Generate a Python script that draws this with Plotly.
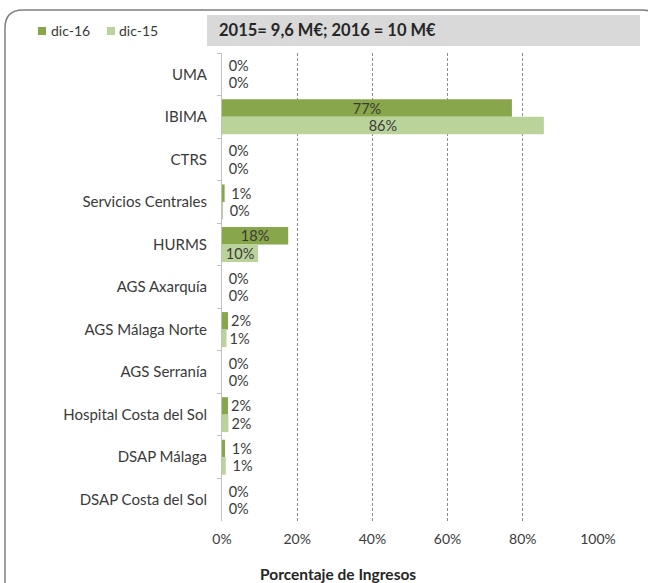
import plotly.graph_objects as go

categories = ["UMA", "IBIMA", "CTRS", "Servicios Centrales", "HURMS", "AGS Axarquía",
              "AGS Málaga Norte", "AGS Serranía", "Hospital Costa del Sol", "DSAP Málaga",
              "DSAP Costa del Sol"]
dic16 = [0, 77.1, 0, 0.7, 17.6, 0, 1.6, 0, 1.6, 0.8, 0]
dic15 = [0, 85.6, 0, 0.2, 9.6, 0, 1.2, 0, 1.7, 1.0, 0]
series_names = ["dic-16", "dic-15"]
x_ticks = [0, 20, 40, 60, 80, 100]
x_tick_labels = ["0%", "20%", "40%", "60%", "80%", "100%"]
note_text = "2015= 9,6 M€; 2016 = 10 M€"
x_title = "Porcentaje de Ingresos"

W, H = 648, 583
L, R, T, B = 222, 50, 53, 62
PW, PH = W - L - R, H - T - B

def px(x):
    return (x - L) / PW

def py(y):
    return (H - B - y) / PH

C16 = "#88a64a"
C15 = "#bad39b"
TXT = "#3a3a3a"
FONT = "Lato"

def positions(vals):
    return ["inside" if v >= 5 else "outside" for v in vals]

def templates(vals):
    return ["\u00a0%{x:.0f}%" if v < 1.2 else "%{x:.0f}%" for v in vals]

fig = go.Figure()
for name, vals, col in [(series_names[0], dic16, C16), (series_names[1], dic15, C15)]:
    fig.add_trace(go.Bar(
        y=categories, x=vals, name=name, orientation="h",
        marker=dict(color=col, line=dict(width=0)),
        texttemplate=templates(vals), textposition=positions(vals),
        insidetextanchor="middle", constraintext="none", textangle=0,
        textfont=dict(family=FONT, size=14.5, color=TXT),
        insidetextfont=dict(family=FONT, size=14.5, color=TXT),
        outsidetextfont=dict(family=FONT, size=14.5, color=TXT),
        cliponaxis=False, showlegend=False,
    ))

shapes = []
r = 18
x0, y0, x1, y1 = 5, 10, 660, 600
def P(x, y):
    return f"{px(x)},{py(y)}"
path = (f"M {P(x0 + r, y0)} L {P(x1 - r, y0)} Q {P(x1, y0)} {P(x1, y0 + r)} "
        f"L {P(x1, y1 - r)} Q {P(x1, y1)} {P(x1 - r, y1)} L {P(x0 + r, y1)} "
        f"Q {P(x0, y1)} {P(x0, y1 - r)} L {P(x0, y0 + r)} Q {P(x0, y0)} {P(x0 + r, y0)} Z")
shapes.append(dict(type="path", xref="paper", yref="paper", path=path,
                   line=dict(color="#7f7f7f", width=1.5), fillcolor="rgba(0,0,0,0)", layer="below"))
shapes.append(dict(type="rect", xref="paper", yref="paper",
                   x0=px(207), x1=px(640), y0=py(46), y1=py(15),
                   fillcolor="#d9d9d9", line=dict(width=0), layer="below"))
for sx, col in [(38, C16), (107, C15)]:
    shapes.append(dict(type="rect", xref="paper", yref="paper",
                       x0=px(sx), x1=px(sx + 8), y0=py(35), y1=py(27),
                       fillcolor=col, line=dict(width=0)))

annotations = [
    dict(text=f"<b>{note_text}</b>", xref="paper", yref="paper", x=px(217), y=py(30.5),
         xanchor="left", yanchor="middle", showarrow=False,
         font=dict(family=FONT, size=16.5, color="#262626")),
    dict(text=series_names[0], xref="paper", yref="paper", x=px(49), y=py(31),
         xanchor="left", yanchor="middle", showarrow=False,
         font=dict(family=FONT, size=14, color=TXT)),
    dict(text=series_names[1], xref="paper", yref="paper", x=px(117), y=py(31),
         xanchor="left", yanchor="middle", showarrow=False,
         font=dict(family=FONT, size=14, color=TXT)),
    dict(text=f"<b>{x_title}</b>", xref="paper", yref="paper", x=px(338), y=py(574),
         xanchor="center", yanchor="middle", showarrow=False,
         font=dict(family=FONT, size=15.5, color="#262626")),
]

fig.update_layout(
    width=W, height=H, margin=dict(l=L, r=R, t=T, b=B, autoexpand=False),
    paper_bgcolor="white", plot_bgcolor="white",
    barmode="group", bargap=0.18, bargroupgap=0,
    shapes=shapes, annotations=annotations, showlegend=False,
    font=dict(family=FONT, size=14, color=TXT),
)
fig.update_xaxes(range=[0, 100], tickvals=x_ticks, ticktext=x_tick_labels,
                 showgrid=True, gridcolor="#8c8c8c", griddash="3px,2px", gridwidth=1,
                 zeroline=False, showline=False, ticks="", ticklabelstandoff=8,
                 tickfont=dict(family=FONT, size=14, color=TXT), fixedrange=True)
fig.update_yaxes(type="category", autorange="reversed", showgrid=False,
                 showline=True, linecolor="#bfbfbf", linewidth=1,
                 ticks="outside", ticklen=4, tickcolor="#bfbfbf", tickson="boundaries",
                 ticklabelstandoff=11,
                 tickfont=dict(family=FONT, size=15, color=TXT), fixedrange=True)

fig.write_html("out.html", config={"displayModeBar": False},
               post_script="document.body.style.margin='0';document.body.style.overflow='hidden';")
